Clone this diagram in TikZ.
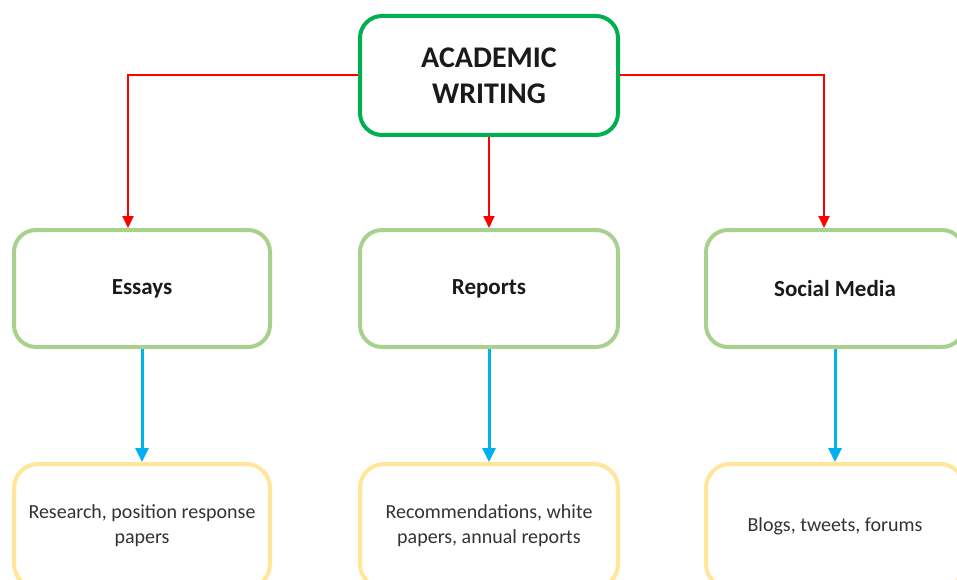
\documentclass[tikz,border=0pt]{standalone}
\usepackage{fontspec}
\setmainfont{Carlito}
\usetikzlibrary{arrows.meta}
\definecolor{topgreen}{HTML}{00B050}
\definecolor{midgreen}{HTML}{A9D18E}
\definecolor{lowyellow}{HTML}{FFE699}
\definecolor{linkred}{HTML}{FF0000}
\definecolor{linkblue}{HTML}{00B0F0}
\definecolor{ink}{HTML}{1A1A1A}
\definecolor{softink}{HTML}{333333}
\tikzset{
  rootbox/.style={draw=topgreen, line width=4pt, rounded corners=22pt, fill=white,
    minimum width=258pt, minimum height=119pt, inner sep=0pt, align=center,
    text=ink, font=\fontsize{30}{36}\selectfont\bfseries},
  catbox/.style={draw=midgreen, line width=4pt, rounded corners=22pt, fill=white,
    minimum width=256pt, minimum height=117pt, inner sep=0pt, align=center,
    text=ink, font=\fontsize{23}{27}\selectfont\bfseries},
  leafbox/.style={draw=lowyellow, line width=4pt, rounded corners=24pt, fill=white,
    minimum width=256pt, minimum height=124pt, inner sep=0pt, align=center,
    text=softink, font=\fontsize{20}{25}\selectfont},
  redlink/.style={draw=linkred, line width=2pt, -{Triangle[width=11pt,length=12pt]}},
  bluelink/.style={draw=linkblue, line width=3pt, -{Triangle[width=13pt,length=14pt]}},
}
\begin{document}
\begin{tikzpicture}[x=1pt,y=-1pt]
\useasboundingbox (0,0) rectangle (957,580);
\clip (0,0) rectangle (957,580);
\fill[white] (0,0) rectangle (957,580);

% top level
\node[rootbox] (root) at (489,75.5) {ACADEMIC\\WRITING};

% categories
\node[catbox] (essays)  at (142,288.5) {Essays};
\node[catbox, minimum width=258pt] (reports) at (489,288.5) {Reports};
\node[catbox, minimum width=258pt] (social)  at (835,288.5) {Social Media};

% examples
\node[leafbox] (essaysx)  at (142,526) {Research, position response\\papers};
\node[leafbox, minimum width=258pt] (reportsx) at (489,526) {Recommendations, white\\papers, annual reports};
\node[leafbox, minimum width=258pt] (socialx)  at (835,526) {Blogs, tweets, forums};

% category links
\coordinate (essaysin) at ([xshift=-14pt]essays.north);
\coordinate (socialin) at ([xshift=-11pt]social.north);
\draw[redlink] (root.west) -| (essaysin);
\draw[redlink] (root.south) -- (reports.north);
\draw[redlink] (root.east) -| (socialin);

% example links
\draw[bluelink] (essays.south) -- (essaysx.north);
\draw[bluelink] (reports.south) -- (reportsx.north);
\draw[bluelink] (social.south) -- (socialx.north);
\end{tikzpicture}
\end{document}
